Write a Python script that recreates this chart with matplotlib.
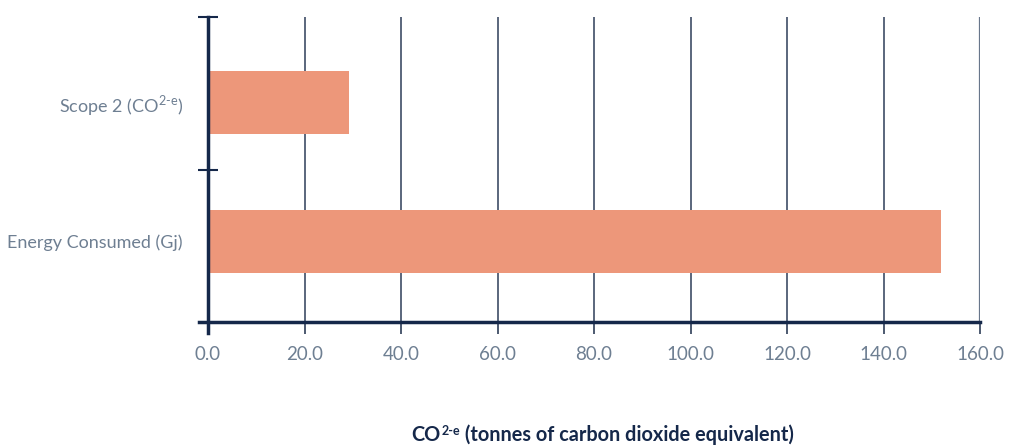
import numpy as np
import matplotlib.pyplot as plt
from matplotlib.ticker import FixedLocator

# data
categories = ["Energy Consumed (Gj)", r"Scope 2 (CO$^{\text{2-e}}$)"]
values = [151.9, 29.2]
xticks = [0, 20, 40, 60, 80, 100, 120, 140, 160]

bar_color = "#ED977A"
navy = "#15284a"
grid_col = "#2e3d58"
label_col = "#6e7f92"

plt.rcParams["font.family"] = ["Lato", "DejaVu Sans"]
plt.rcParams["mathtext.fontset"] = "custom"
plt.rcParams["mathtext.rm"] = "Lato"

fig = plt.figure(figsize=(10.12, 4.47), dpi=100)
ax = fig.add_axes([208 / 1012, 1 - 322 / 447, 772 / 1012, 305 / 447])

ypos = np.arange(len(categories))
ax.barh(ypos, values, height=0.45, color=bar_color, zorder=2)

ax.set_xlim(0, 160)
ax.set_ylim(-0.579, 1.615)

ax.set_xticks(xticks)
ax.set_xticklabels([f"{v:.1f}" for v in xticks], fontsize=13.5,
                   color=label_col)
ax.tick_params(axis="x", direction="out", length=8.5, width=1.2,
               color=grid_col, pad=9)
ax.grid(axis="x", color=grid_col, linewidth=1.1, zorder=1)
last = ax.xaxis.get_gridlines()[-1]
last.set_color("#68768b")
last.set_linewidth(1.6)

ax.set_yticks(ypos)
ax.set_yticklabels(categories, fontsize=13, color=label_col)
ax.tick_params(axis="y", which="major", length=0, pad=18)
ax.yaxis.set_minor_locator(FixedLocator([0.514, 1.615]))
ax.tick_params(axis="y", which="minor", direction="inout", length=14,
               width=1.5, color=navy)

for s in ["top", "right"]:
    ax.spines[s].set_visible(False)
ax.spines["left"].set_color(navy)
ax.spines["left"].set_linewidth(2.5)
ax.spines["left"].set_bounds(-0.66, 1.615)
ax.spines["bottom"].set_color(navy)
ax.spines["bottom"].set_linewidth(2.5)
ax.spines["bottom"].set_bounds(-1.8, 160)
ax.spines["bottom"].set_zorder(3)

# x axis title, built in pieces so the superscript stays bold
lab = dict(fontweight="bold", color=navy)
t1 = fig.text(411 / 1012, 1 - 441 / 447, "CO", ha="left", va="baseline",
              fontsize=14.3, **lab)
t2 = fig.add_artist(plt.Annotation("2-e", xy=(1, 1.0), xycoords=t1,
                                   xytext=(1, 0), textcoords="offset points",
                                   ha="left", va="top", fontsize=9, **lab))
fig.add_artist(plt.Annotation(" (tonnes of carbon dioxide equivalent)",
                              xy=(1, 0), xycoords=(t2, t1), ha="left",
                              va="bottom", fontsize=14.3, **lab))

fig.savefig("out.png", dpi=100)
